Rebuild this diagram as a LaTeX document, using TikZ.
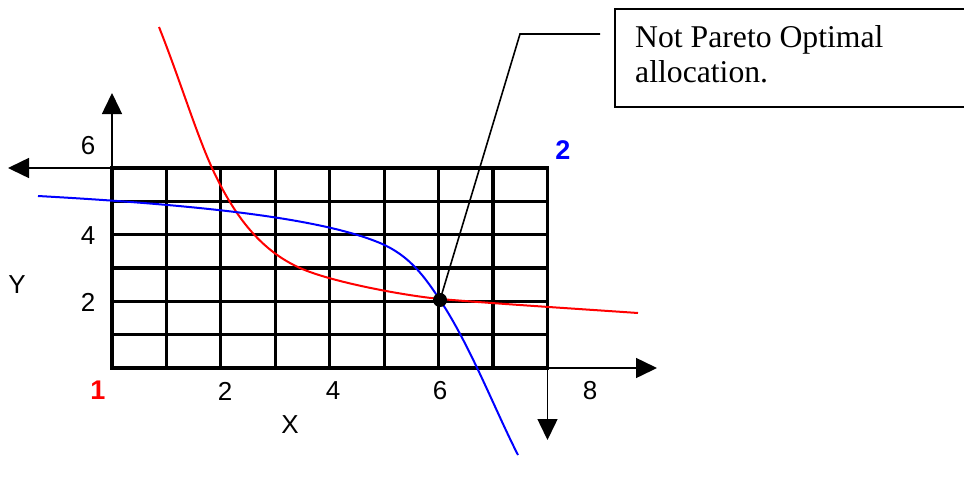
\documentclass[tikz,border=0pt]{standalone}
\usepackage{fontspec}
\setmainfont{Liberation Serif}
\setsansfont{Liberation Sans}
\usetikzlibrary{arrows.meta}
\begin{document}
\begin{tikzpicture}[x=1pt,y=-1pt,
  gridline/.style={line width=3.2pt,line cap=rect},
  axisline/.style={line width=1.5pt,-{Triangle[width=20pt,length=21pt]}},
  lbl/.style={font=\sffamily\fontsize{26}{28}\selectfont,inner sep=0pt},
  corner/.style={font=\sffamily\bfseries\fontsize{27}{29}\selectfont,inner sep=0pt},
  curve/.style={line width=2pt},
  callout/.style={line width=1.6pt}]
\useasboundingbox (0,0) rectangle (964,483);
% grid
\foreach \i in {0,...,8} {
  \draw[gridline] ({112+\i*54.44},168) -- ({112+\i*54.44},368);
}
\foreach \j in {0,...,6} {
  \draw[gridline] (112,{168+\j*33.33}) -- (547.5,{168+\j*33.33});
}
% axes
\coordinate (O1) at (112,368);
\coordinate (O1top) at (112,168);
\coordinate (Yup) at (112,93);
\coordinate (Xleft) at (8,168);
\coordinate (O2) at (547.5,368);
\coordinate (Xright) at (657,368);
\coordinate (Ydown) at (547.5,440);
\draw[axisline] (O1) -- (Yup);
\draw[axisline] (O1top) -- (Xleft);
\draw[axisline] (O2) -- (Xright);
\draw[axisline] (O2) -- (Ydown);
% curves
\draw[curve,red] (159,27) .. controls (180,80) and (195,130) .. (212,168)
  .. controls (235,218) and (262,251) .. (300,268)
  .. controls (330,281.5) and (400,295) .. (440,299)
  .. controls (500,304) and (580,309) .. (638,313);
\draw[curve,blue] (38,196) .. controls (200,205) and (320,218) .. (380,243)
  .. controls (410,255.5) and (425,277.5) .. (440,300)
  .. controls (470,345) and (495,410) .. (518,455);
% point and callout
\node[circle,fill=black,minimum size=14pt,inner sep=0pt] (pt) at (440,300) {};
\coordinate (knee) at (520,34);
\coordinate (tail) at (600,34);
\draw[callout] (pt.center) -- (knee) -- (tail);
\draw[line width=2pt] (970,9) -- (615,9) -- (615,107) -- (970,107);
\node[anchor=base west,align=left,inner sep=0pt,font=\fontsize{31.7}{35}\selectfont] (note) at (635,82) {Not Pareto Optimal\\allocation.};
% labels
\node[lbl] (y6) at (88,146) {6};
\node[lbl] (y4) at (88,236) {4};
\node[lbl] (y2) at (88,302) {2};
\node[lbl] (ylab) at (17,285) {Y};
\node[lbl] (x2) at (225,391) {2};
\node[lbl] (x4) at (333,391) {4};
\node[lbl] (x6) at (440,391) {6};
\node[lbl] (x8) at (590,391) {8};
\node[lbl] (xlab) at (290,425) {X};
\node[corner,text=red] (c1) at (98,390) {1};
\node[corner,text=blue] (c2) at (563,150) {2};
\end{tikzpicture}
\end{document}
